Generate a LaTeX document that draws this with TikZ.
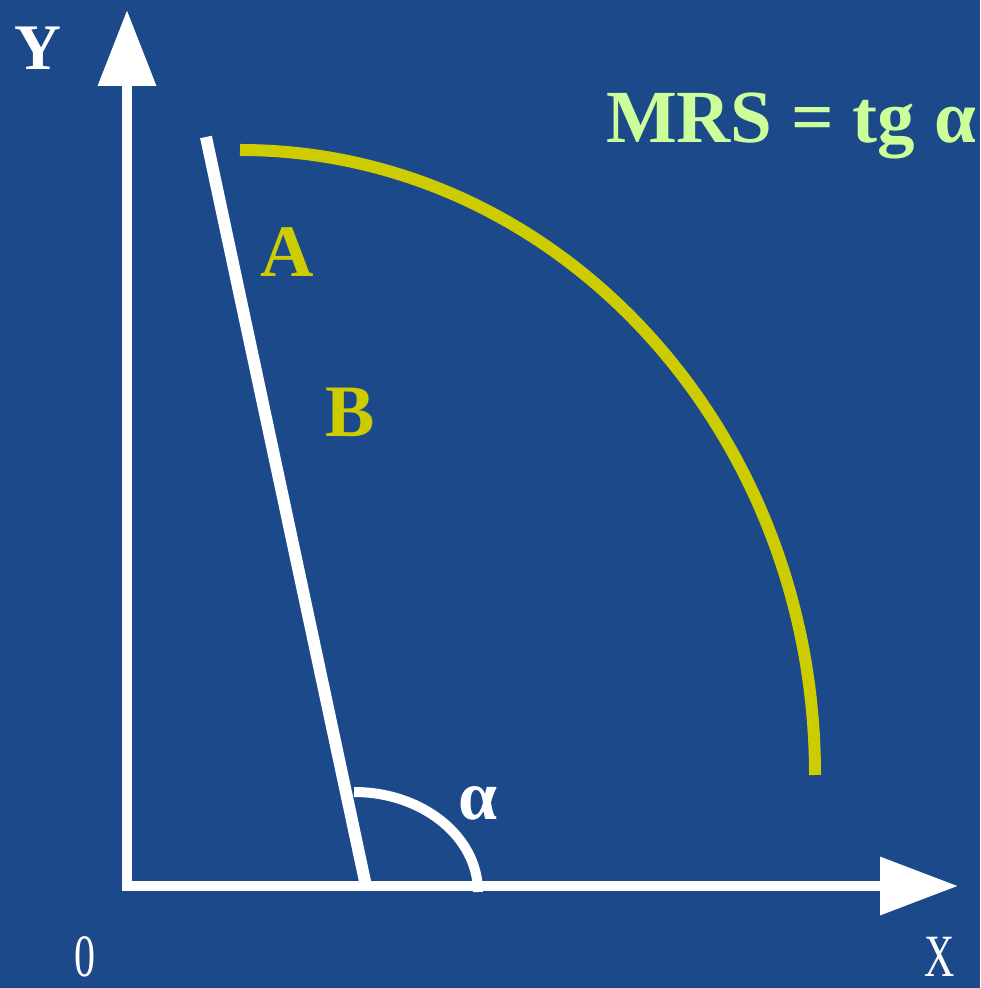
\documentclass[tikz,border=0pt]{standalone}
\usepackage{fontspec}
\setmainfont{Liberation Serif}
\usepackage{xcolor}
\usetikzlibrary{arrows.meta}
\definecolor{bgblue}{HTML}{1B4989}
\definecolor{olive}{HTML}{CCCC00}
\definecolor{lightgreen}{HTML}{CCFF99}
\tikzset{
  axis/.style={line width=10pt,draw=white,line join=miter,
    {Triangle[length=76pt,width=56pt]}-{Triangle[length=78pt,width=56pt]}},
  budget/.style={line width=12pt,draw=white},
  curve/.style={line width=12pt,draw=olive},
  axlabel/.style={text=white,anchor=base,inner sep=0pt,font=\fontsize{60}{60}\selectfont,xscale=0.7},
  ptlabel/.style={text=olive,anchor=base,font=\fontsize{74}{74}\selectfont\bfseries},
  title/.style={text=lightgreen,anchor=base,font=\fontsize{75}{75}\selectfont\bfseries}
}
\begin{document}
\begin{tikzpicture}[x=1pt,y=1pt]
\fill[bgblue] (0,0) rectangle (980,988);
\useasboundingbox (0,0) rectangle (980,988);
% axes
\coordinate (O) at (127,102);
\coordinate (ytip) at (127,978);
\coordinate (xtip) at (958,102);
\draw[axis] (ytip) -- (O) -- (xtip);
% budget line and angle
\coordinate (top) at (206,851);
\coordinate (foot) at (366,102);
\draw[budget] (top) -- (foot);
\coordinate (angstart) at (354,196);
\draw[line width=10pt,white] (angstart) arc[start angle=90,end angle=0,x radius=124,y radius=100];
% indifference curve
\coordinate (cstart) at (240,838);
\draw[curve] (cstart) arc[start angle=90,end angle=0,x radius=575,y radius=625];
% labels
\node[text=white,anchor=base,font=\fontsize{65}{65}\selectfont\bfseries] (ylab) at (38,918) {Y};
\node[axlabel] (olab) at (85,12) {0};
\node[axlabel] (xlab) at (940,12) {X};
\node[title] (mrs) at (791,845) {MRS = tg α};
\node[ptlabel] (a) at (287,711) {A};
\node[ptlabel] (b) at (350,551) {B};
\node[text=white,anchor=base,font=\fontsize{70}{70}\selectfont\bfseries] (alpha) at (478,168) {α};
\end{tikzpicture}
\end{document}
